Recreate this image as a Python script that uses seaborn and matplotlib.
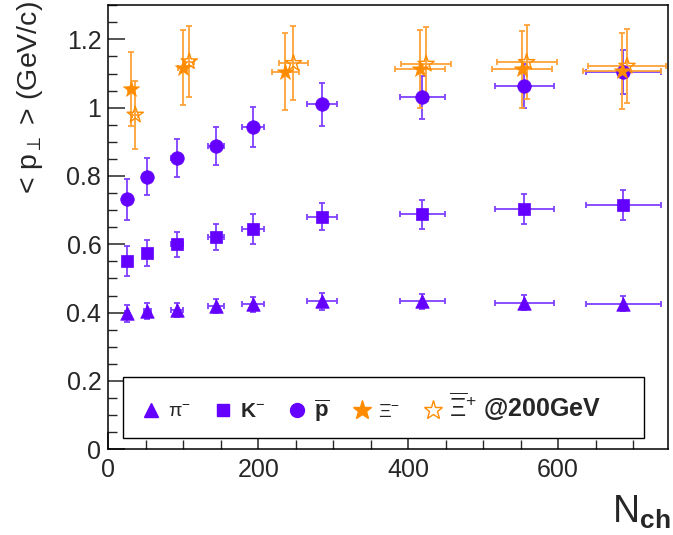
import matplotlib
matplotlib.use("Agg")
import matplotlib.pyplot as plt
from matplotlib.lines import Line2D
from matplotlib.ticker import MultipleLocator
import seaborn as sns
import pandas as pd

# ---------------- data ----------------
nch = [25, 52, 91, 144, 193, 285, 419, 555, 687]
nch_err = [3, 5, 8, 11, 15, 20, 30, 39, 50]

pi_pt = [0.398, 0.405, 0.408, 0.420, 0.425, 0.433, 0.433, 0.429, 0.426]
pi_err = [0.024, 0.023, 0.020, 0.020, 0.022, 0.024, 0.022, 0.022, 0.022]

k_pt = [0.550, 0.575, 0.600, 0.621, 0.645, 0.681, 0.688, 0.703, 0.716]
k_err = [0.044, 0.037, 0.037, 0.039, 0.044, 0.040, 0.042, 0.044, 0.044]

pbar_pt = [0.732, 0.798, 0.852, 0.887, 0.943, 1.010, 1.030, 1.064, 1.104]
pbar_err = [0.060, 0.054, 0.055, 0.056, 0.058, 0.063, 0.064, 0.065, 0.065]

xim_nch = [30, 99, 236, 416, 552, 685]
xim_nch_err = [4, 6, 18, 33, 40, 52]
xim_pt = [1.054, 1.117, 1.105, 1.112, 1.112, 1.108]
xim_err = [0.108, 0.110, 0.113, 0.114, 0.112, 0.112]

xip_nch = [36, 108, 247, 424, 558, 692]
xip_nch_err = [4, 6, 19, 33, 40, 52]
xip_pt = [0.979, 1.135, 1.130, 1.128, 1.133, 1.122]
xip_err = [0.100, 0.105, 0.108, 0.108, 0.108, 0.108]

legend_labels = [r"$\mathrm{\pi}^{-}$", r"$\mathbf{K}^{-}$", r"$\overline{\mathbf{p}}$",
                 r"$\Xi^{-}$", r"$\overline{\Xi}^{+}$ @200GeV     "]

# ---------------- style ----------------
sns.set_style("ticks")
plt.rcParams["font.family"] = ["Liberation Sans", "DejaVu Sans"]
plt.rcParams["mathtext.fontset"] = "custom"
plt.rcParams["mathtext.rm"] = "Liberation Sans"
plt.rcParams["mathtext.it"] = "Liberation Sans:italic"
plt.rcParams["mathtext.bf"] = "Liberation Sans:bold"

PURPLE = "#6400ff"
PURPLE_E = "#8040ff"
ORANGE = "#ff8c00"
ORANGE_E = "#ffa238"

fig = plt.figure(figsize=(6.73, 5.35), dpi=100)
ax = fig.add_axes([0.1609, 0.1602, 0.8321, 0.8301])

ekw = dict(fmt="none", capsize=2.5, elinewidth=1.3, capthick=1.3, zorder=2)
ax.errorbar(nch, pi_pt, yerr=pi_err, xerr=nch_err, ecolor=PURPLE_E, **ekw)
ax.errorbar(nch, k_pt, yerr=k_err, xerr=nch_err, ecolor=PURPLE_E, **ekw)
ax.errorbar(nch, pbar_pt, yerr=pbar_err, xerr=nch_err, ecolor=PURPLE_E, **ekw)
ax.errorbar(xim_nch, xim_pt, yerr=xim_err, xerr=xim_nch_err, ecolor=ORANGE_E, **ekw)
ax.errorbar(xip_nch, xip_pt, yerr=xip_err, xerr=xip_nch_err, ecolor=ORANGE_E, **ekw)

df_pi = pd.DataFrame({"Nch": nch, "pt": pi_pt})
df_k = pd.DataFrame({"Nch": nch, "pt": k_pt})
df_p = pd.DataFrame({"Nch": nch, "pt": pbar_pt})
df_xm = pd.DataFrame({"Nch": xim_nch, "pt": xim_pt})
df_xp = pd.DataFrame({"Nch": xip_nch, "pt": xip_pt})

sns.scatterplot(data=df_pi, x="Nch", y="pt", marker="^", s=95, color=PURPLE,
                edgecolor=PURPLE, linewidth=0.5, ax=ax, zorder=3, legend=False)
sns.scatterplot(data=df_k, x="Nch", y="pt", marker="s", s=80, color=PURPLE,
                edgecolor=PURPLE, linewidth=0.5, ax=ax, zorder=3, legend=False)
sns.scatterplot(data=df_p, x="Nch", y="pt", marker="o", s=95, color=PURPLE,
                edgecolor=PURPLE, linewidth=0.5, ax=ax, zorder=3, legend=False)
sns.scatterplot(data=df_xm, x="Nch", y="pt", marker="*", s=150, color=ORANGE,
                edgecolor=ORANGE, linewidth=0.5, ax=ax, zorder=3, legend=False)
sns.scatterplot(data=df_xp, x="Nch", y="pt", marker="*", s=150, facecolor="none",
                edgecolor=ORANGE, linewidth=1.0, ax=ax, zorder=3, legend=False)

ax.set_xlim(0, 747)
ax.set_ylim(0, 1.3)
ax.xaxis.set_minor_locator(MultipleLocator(50))
ax.yaxis.set_minor_locator(MultipleLocator(0.05))
ax.set_xticks([0, 200, 400, 600])
ax.set_xticklabels(["0", "200", "400", "600"])
ax.set_yticks([0, 0.2, 0.4, 0.6, 0.8, 1.0, 1.2])
ax.set_yticklabels(["0", "0.2", "0.4", "0.6", "0.8", "1", "1.2"])
ax.tick_params(which="major", direction="in", length=12, width=1.1,
               labelsize=18, top=False, right=False, pad=5)
ax.tick_params(which="minor", direction="in", length=6.5, width=1.0,
               top=False, right=False)
ax.tick_params(axis="x", pad=6)
for sp in ax.spines.values():
    sp.set_visible(True)
    sp.set_linewidth(1.1)
    sp.set_color("black")
ax.set_xlabel("")
ax.set_ylabel("")

fig.text(0.045, 0.998, r"< p$_{\perp}$ > (GeV/c)", rotation=90, ha="center",
         va="top", fontsize=20.5)
fig.text(0.997, 0.008, r"N$_{\mathbf{ch}}$", ha="right", va="bottom", fontsize=27)

handles = [
    Line2D([], [], marker="^", ls="none", color=PURPLE, markersize=10),
    Line2D([], [], marker="s", ls="none", color=PURPLE, markersize=9),
    Line2D([], [], marker="o", ls="none", color=PURPLE, markersize=10),
    Line2D([], [], marker="*", ls="none", color=ORANGE, markersize=14),
    Line2D([], [], marker="*", ls="none", markerfacecolor="none",
           markeredgecolor=ORANGE, markersize=14, markeredgewidth=1.0),
]
leg = ax.legend(handles, legend_labels, ncol=5, loc="lower left",
                bbox_to_anchor=(0.0255, 0.0254), frameon=True, fancybox=False,
                edgecolor="black", framealpha=1, handlelength=1.4,
                handletextpad=0.1, columnspacing=0.85, borderaxespad=0,
                borderpad=0.67, fontsize=15)
leg.get_frame().set_linewidth(1.0)
sizes = [14, 15, 16, 14, 18]
for t, s in zip(leg.get_texts(), sizes):
    t.set_fontsize(s)
    t.set_fontweight("bold")

fig.savefig("out.png", dpi=100)
